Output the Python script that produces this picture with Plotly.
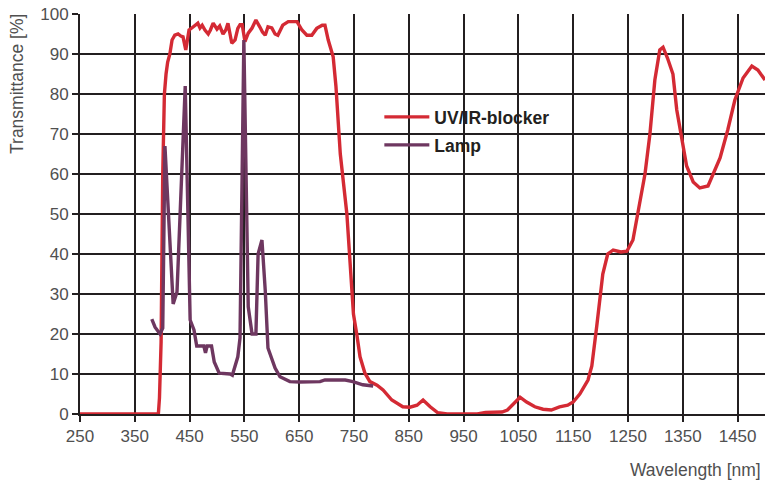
import plotly.graph_objects as go

# UV/IR-blocker transmittance
blocker_nm = [250, 393, 395, 398, 401, 404, 407, 410, 414, 418, 423, 429, 434, 438, 443, 446, 449, 454,
              460, 465, 469, 473, 478, 484, 488, 493, 500, 505, 511, 516, 520, 527, 533, 538, 542, 546,
              551, 557, 564, 571, 578, 583, 588, 593, 600, 606, 611, 620, 630, 646, 655, 664, 673, 682,
              692, 697, 703, 712, 717, 725, 737, 742, 749, 755, 761, 770, 779, 792, 803, 819, 839, 852,
              865, 876, 889, 903, 920, 950, 975, 990, 1020, 1030, 1040, 1053, 1065, 1080, 1095, 1110,
              1125, 1140, 1150, 1162, 1177, 1184, 1193, 1200, 1204, 1213, 1223, 1237, 1248, 1259, 1268,
              1281, 1290, 1299, 1308, 1314, 1322, 1332, 1339, 1348, 1357, 1369, 1381, 1396, 1405, 1418,
              1432, 1445, 1460, 1476, 1487, 1500]
blocker_t = [0, 0, 4, 18, 60, 80, 85, 88, 90, 93.5, 94.7, 95, 94.5, 94.3, 91, 93, 96, 96.5,
             97.3, 97.7, 96.5, 97.2, 96, 95, 96, 97.7, 96.2, 97, 95, 96, 97.7, 92.7, 93.5, 96.4, 97.3, 97.3,
             93.1, 95.2, 96.5, 98.5, 96.8, 95.5, 94.7, 96.8, 96.5, 95, 94.7, 97.2, 98.1, 98.1, 96, 94.7, 94.7, 96.4,
             97.2, 97.2, 93.5, 89.3, 82, 65, 50, 40, 25, 20, 14.3, 10.2, 8.1, 7.2, 6, 3.5, 1.8, 1.7,
             2.2, 3.5, 1.8, 0.3, 0, 0, 0, 0.4, 0.5, 1, 2.5, 4.2, 3, 1.8, 1.2, 1,
             1.8, 2.2, 3, 5, 8.5, 12, 22, 30, 35, 40, 41, 40.5, 40.7, 43.5, 50,
             60, 70, 83.5, 91, 91.7, 89, 85, 76, 68.5, 62, 58, 56.5, 57, 60, 64,
             71, 78.5, 84, 87, 86, 83.5]

# Lamp spectrum
lamp_nm = [381, 387, 396, 401, 405, 420, 427, 442, 451, 458, 463, 472, 476, 479, 482, 490, 495, 504,
           524, 528, 533, 538, 542, 549, 557, 564, 571, 575, 582, 588, 593, 606, 615, 633, 651, 688,
           697, 734, 748, 766, 785]
lamp_t = [23.7, 21.7, 20, 21.5, 67, 27.5, 30.5, 82, 23.5, 21, 17, 17, 17, 15.3, 17, 17, 13, 10.2,
          10, 9.7, 11.7, 14.3, 19, 93.5, 26.8, 20, 20, 40, 43.5, 31, 16.5, 11.5, 9.3, 8.1, 8, 8.1,
          8.5, 8.5, 8.1, 7.3, 7]

x_ticks = list(range(250, 1451, 100))
y_ticks = list(range(0, 101, 10))

grid = "#231f20"
text_grey = "#505050"
tick_font = dict(family="Liberation Sans", size=17, color=text_grey)

fig = go.Figure()
fig.add_trace(go.Scatter(x=blocker_nm, y=blocker_t, mode="lines", name="UV/IR-blocker",
                         line=dict(color="#d42a34", width=3.4), legend="legend"))
fig.add_trace(go.Scatter(x=lamp_nm, y=lamp_t, mode="lines", name="Lamp",
                         line=dict(color="#6e3760", width=3.4), legend="legend2"))

legend_common = dict(xanchor="left", yanchor="middle", bgcolor="rgba(0,0,0,0)", borderwidth=0,
                     font=dict(family="Liberation Sans", size=17.5, color="#231f20", weight="bold"),
                     itemwidth=45)
fig.update_layout(
    width=765, height=489,
    margin=dict(l=80, r=0, t=14, b=75, autoexpand=False),
    paper_bgcolor="white", plot_bgcolor="white",
    showlegend=True,
    legend=dict(x=0.437, y=0.7425, **legend_common),
    legend2=dict(x=0.437, y=0.6725, **legend_common),
    xaxis=dict(range=[250, 1500], tickvals=x_ticks, ticktext=[str(v) for v in x_ticks],
               showgrid=True, gridcolor=grid, gridwidth=2,
               showline=True, linecolor=grid, linewidth=2,
               ticks="outside", ticklen=6, tickwidth=2, tickcolor=grid,
               tickfont=tick_font, zeroline=False, fixedrange=True),
    yaxis=dict(range=[0, 100], tickvals=y_ticks, ticktext=[str(v) for v in y_ticks],
               showgrid=True, gridcolor=grid, gridwidth=2,
               showline=True, linecolor=grid, linewidth=2,
               ticks="outside", ticklen=6, tickwidth=2, tickcolor=grid,
               tickfont=tick_font, zeroline=False, fixedrange=True),
    annotations=[
        dict(text="Transmittance [%]", xref="paper", yref="paper", x=-0.092, y=0.825,
             textangle=-90, showarrow=False, xanchor="center", yanchor="middle",
             font=dict(family="Liberation Sans", size=17.5, color=text_grey)),
        dict(text="Wavelength [nm]", xref="paper", yref="paper", x=0.997, y=-0.14,
             showarrow=False, xanchor="right", yanchor="middle",
             font=dict(family="Liberation Sans", size=17.5, color=text_grey)),
    ],
)

fig.write_html("out.html", config={"displayModeBar": False},
               post_script="document.body.style.margin='0px';")
